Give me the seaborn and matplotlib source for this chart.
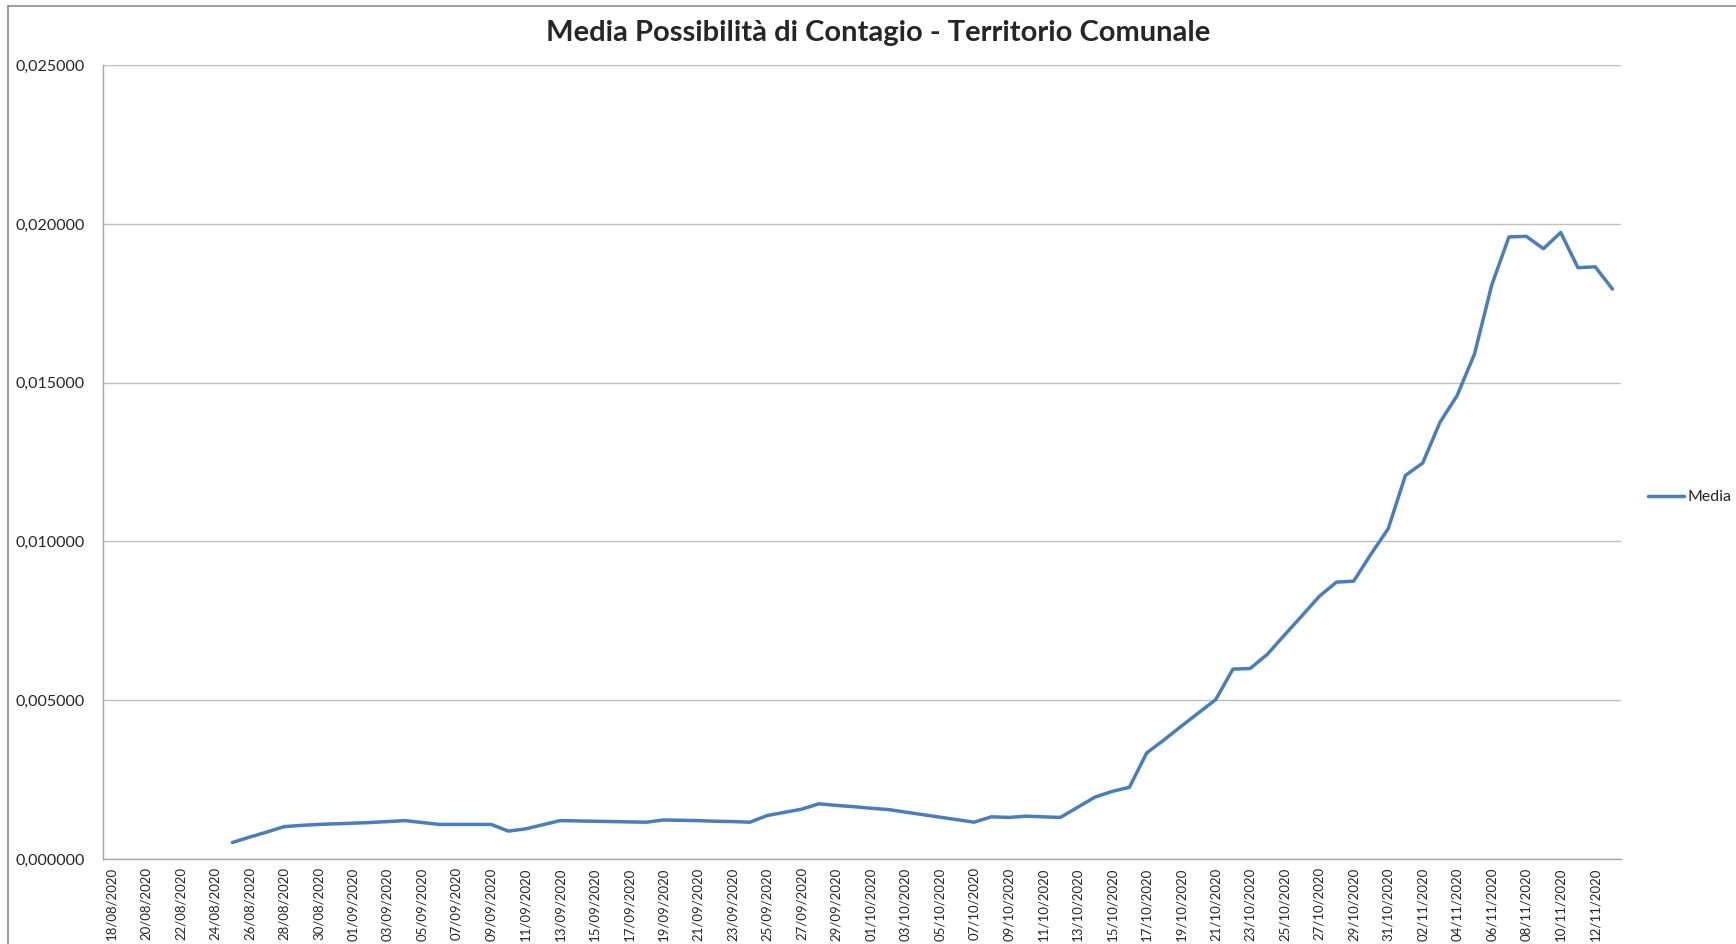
import numpy as np
import pandas as pd
import matplotlib
matplotlib.use("Agg")
import matplotlib.pyplot as plt
import matplotlib.dates as mdates
from matplotlib.lines import Line2D
from matplotlib.ticker import FuncFormatter
from matplotlib import font_manager
import seaborn as sns

# axis range (daily categories) and the first day with a value
start_date = "2020-08-18"
end_date = "2020-11-13"
first_value_date = "2020-08-25"

# daily values, 25/08 -> 13/11
media = [
    0.00052, 0.00069, 0.00085, 0.00102, 0.00106, 0.00109, 0.00111, 0.00113,
    0.00115, 0.00118, 0.00121, 0.00115, 0.00109, 0.00109, 0.00109, 0.00109,
    0.00088, 0.00095, 0.00108, 0.00121, 0.00120, 0.00119, 0.00118, 0.00117,
    0.00116, 0.00123, 0.00122, 0.00121, 0.00119, 0.00118, 0.00116, 0.00137,
    0.00147, 0.00157, 0.00174, 0.00169, 0.00165, 0.00160, 0.00156, 0.00148,
    0.00140, 0.00132, 0.00124, 0.00116, 0.00133, 0.00131, 0.00135, 0.00133,
    0.00131, 0.00163, 0.00195, 0.00213, 0.00226, 0.00334, 0.00375, 0.00418,
    0.00460, 0.00502, 0.00598, 0.00600, 0.00645, 0.00706, 0.00766, 0.00827,
    0.00872, 0.00875, 0.00960, 0.01040, 0.01208, 0.01247, 0.01375, 0.01460,
    0.01590, 0.01807, 0.01959, 0.01961, 0.01922, 0.01973, 0.01862, 0.01865,
    0.01795,
]

yticks = [0.0, 0.005, 0.010, 0.015, 0.020, 0.025]
title = "Media Possibilità di Contagio - Territorio Comunale"

days = pd.date_range(start_date, end_date, freq="D")
df = pd.DataFrame({
    "data": pd.date_range(first_value_date, periods=len(media), freq="D"),
    "Media": media,
})

sns.set_style("white")
plt.rcParams["font.family"] = ["Lato", "DejaVu Sans"]

# narrow face for the date labels if it is there, else Lato a bit smaller
installed = {f.name for f in font_manager.fontManager.ttflist}
if "Liberation Sans Narrow" in installed:
    date_font, date_size = "Liberation Sans Narrow", 12
else:
    date_font, date_size = "Lato", 9.5

fig = plt.figure(figsize=(17.36, 9.44), dpi=100)
ax = fig.add_axes([0.0593, 0.09, 0.8745, 0.841])

sns.lineplot(data=df, x="data", y="Media", ax=ax, color="#4a7ebb",
             linewidth=2.5, label="Media")

half = pd.Timedelta(hours=12)
ax.set_xlim(days[0] - half, days[-1] + half)
ax.set_ylim(yticks[0], yticks[-1])

# labels at category centres, tick marks on the boundaries (Excel style)
ax.set_xticks(days[::2])
ax.set_xticklabels([d.strftime("%d/%m/%Y") for d in days[::2]],
                   rotation=90, fontsize=date_size, family=date_font)
ax.set_xticks(list(days[::2] - half) + [days[-1] + half], minor=True)
ax.tick_params(axis="x", which="major", length=0, pad=6)
ax.tick_params(axis="x", which="minor", length=5, color="#a6a6a6", width=1)

ax.set_yticks(yticks)
ax.yaxis.set_major_formatter(
    FuncFormatter(lambda v, p: f"{v:.6f}".replace(".", ",")))
ax.tick_params(axis="y", length=5, color="#a6a6a6", width=1, pad=8,
               labelsize=11.5)

ax.grid(axis="y", color="#bfbfbf", linewidth=1)
ax.grid(axis="x", visible=False)
ax.set_axisbelow(True)
for side in ["top", "right"]:
    ax.spines[side].set_visible(False)
for side in ["left", "bottom"]:
    ax.spines[side].set_color("#a6a6a6")
    ax.spines[side].set_linewidth(1)

ax.set_xlabel("")
ax.set_ylabel("")

ax.legend(loc="center left", bbox_to_anchor=(1.008, 0.456), frameon=False,
          fontsize=11.5, handlelength=2.3, handletextpad=0.2)

fig.text(0.506, 0.965, title, ha="center", va="center",
         fontsize=21, fontweight="bold")

# outer chart frame (top and left edges visible in the crop)
fig.add_artist(Line2D([0.0046, 1.0], [0.9936, 0.9936], color="#8c8c8c",
                      linewidth=1.2, transform=fig.transFigure))
fig.add_artist(Line2D([0.0046, 0.0046], [0.0, 0.9936], color="#8c8c8c",
                      linewidth=1.2, transform=fig.transFigure))

fig.savefig("out.png", dpi=100)
